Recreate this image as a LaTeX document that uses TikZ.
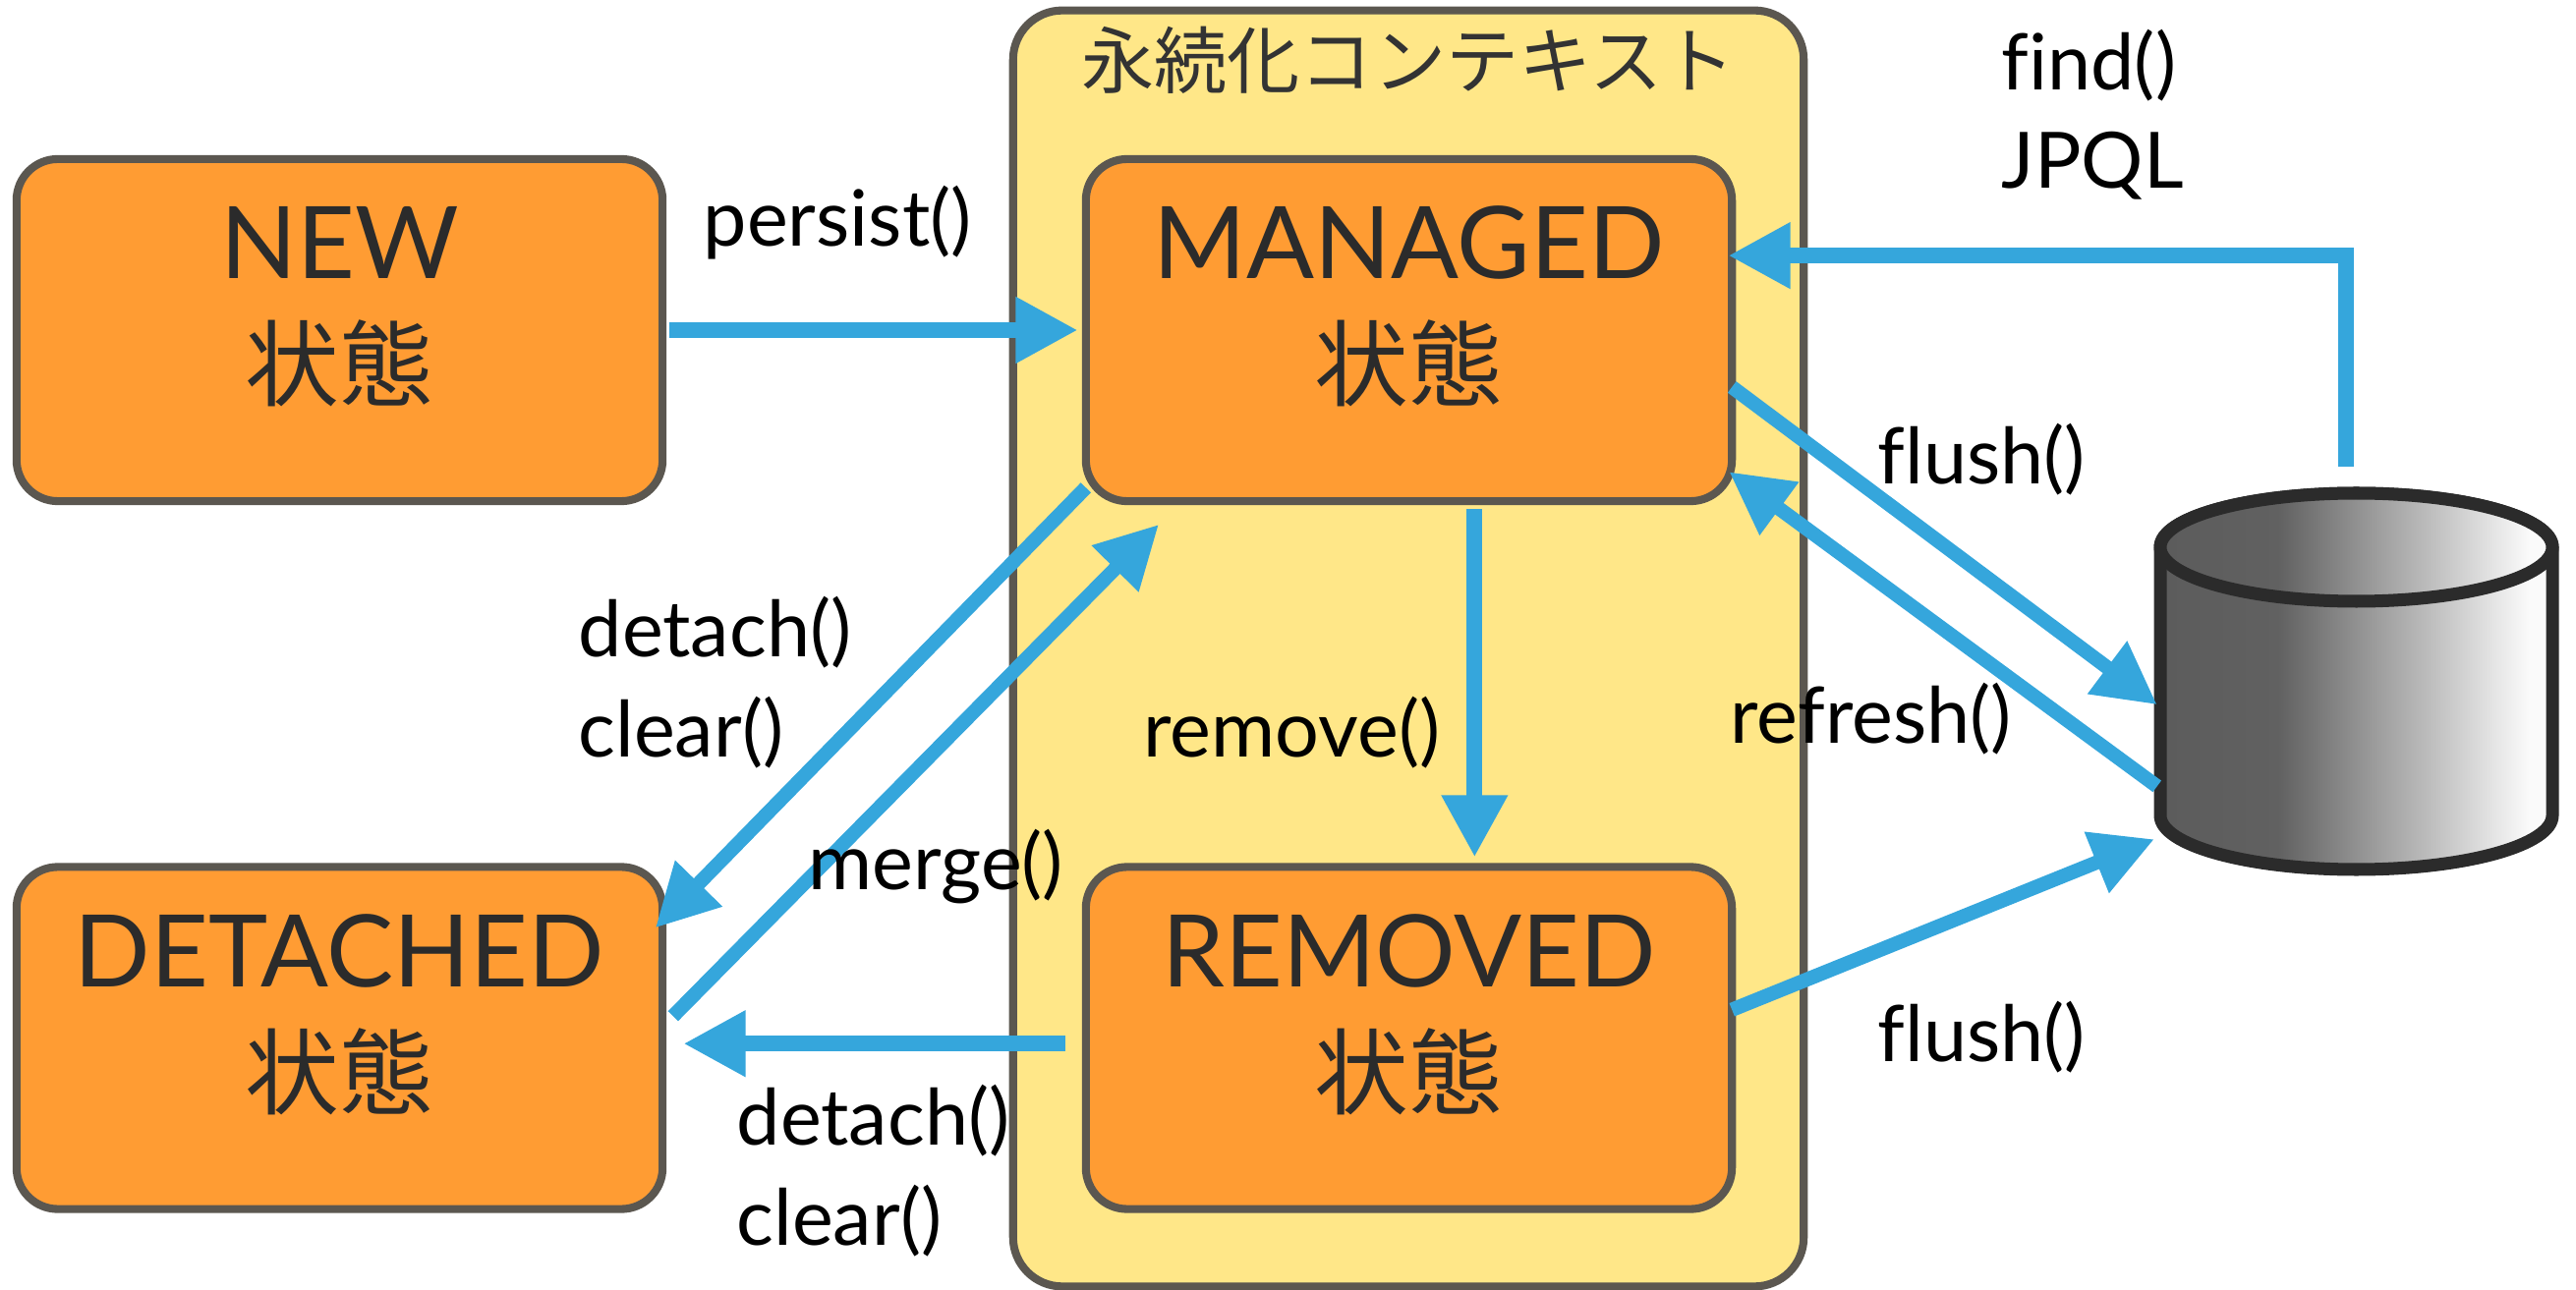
\documentclass[tikz,border=0pt]{standalone}
\usepackage{fontspec}
\setmainfont{Lato}[Ligatures=NoCommon]
\newfontfamily\jpfont{Noto Sans CJK JP}
\usetikzlibrary{positioning}
\usetikzlibrary{arrows.meta}
\definecolor{boxorange}{HTML}{FF9C33}
\definecolor{boxyellow}{HTML}{FFE788}
\definecolor{boxedge}{HTML}{5B5750}
\definecolor{flowblue}{HTML}{35A6DC}
\definecolor{dbedge}{HTML}{2B2B2B}
\pgfdeclarehorizontalshading{dbshade}{100bp}{color(0bp)=(black!64);color(25bp)=(black!64);color(40bp)=(black!62);color(72bp)=(black!2);color(100bp)=(black!2)}
\tikzset{
    statebox/.style={rectangle, rounded corners=0.42cm, fill=boxorange, draw=boxedge,
        line width=2.3pt, outer sep=0pt, minimum width=6.57cm, minimum height=3.48cm, inner sep=0pt},
    statename/.style={anchor=base, text=black!83, font=\fontsize{29}{29}\selectfont},
    statejp/.style={anchor=base, text=black!83, font=\jpfont\fontsize{27.2}{27.2}\selectfont},
    method/.style={anchor=base west, inner sep=0pt, font=\fontsize{22.5}{22.5}\selectfont},
    flow/.style={draw=flowblue, line width=4.5pt, -{Triangle[length=18pt,width=18pt]}},
    thinflow/.style={draw=flowblue, line width=4.1pt, -{Triangle[length=18pt,width=18pt]}}
}
\begin{document}
\begin{tikzpicture}[x=0.01cm, y=-0.01cm]
        \useasboundingbox (0,0) rectangle (2621,1313);

        \node[rectangle, rounded corners=0.5cm, fill=boxyellow, draw=boxedge, line width=2.3pt,
            outer sep=0pt, minimum width=8.04cm, minimum height=12.98cm] (context) at (1433,660) {};
        \node[anchor=base, text=black!80, font=\jpfont\fontsize{21.1}{21.1}\selectfont] (contextname)
            at (1433,90) {永続化コンテキスト};

        \foreach \n/\t/\x/\y in {newbox/NEW/345.5/336, managed/MANAGED/1433.5/336,
            detached/DETACHED/345.5/1056.5, removed/REMOVED/1433.5/1056.5}
        {
            \node[statebox] (\n) at (\x,\y) {};
            \node[statename] (\n name) at (\x,\y-52) {\t};
            \node[statejp] (\n jp) at (\x,\y+71) {状態};
        }

        % database
        \node[minimum width=4.11cm, minimum height=3.97cm, inner sep=0pt, outer sep=0pt] (db) at (2397.5,693.5) {};
        \draw[draw=dbedge, line width=3.7pt, shading=dbshade] (2198,557) -- (2198,830)
            arc[start angle=180, end angle=0, x radius=199.5, y radius=55]
            -- (2597,557) arc[start angle=0, end angle=-180, x radius=199.5, y radius=55];
        \draw[draw=dbedge, line width=3.7pt, shading=dbshade] (2397.5,557) ellipse[x radius=199.5, y radius=55];

        \draw[flow, shorten <=2pt, shorten >=2.3pt] (newbox.east) -- (managed.west);
        \draw[flow, shorten <=2.3pt, shorten >=2.8pt] (managed.-69.5) -- (removed.69.5);
        \draw[flow, shorten <=6pt, shorten >=6pt] (removed.181.8) -- (detached.-1.8);
        \draw[flow, shorten <=5.7pt, shorten >=-1.1pt] (db.93.6) |- (managed.13.2);

        \draw[thinflow, shorten >=-3pt] (managed.206.8) -- (detached.20.8);
        \draw[thinflow, shorten <=4.3pt, shorten >=9.5pt] (detached.2) -- (managed.217.9);
        \draw[thinflow, shorten >=-1pt] (managed.-10.7) -- (db.186);
        \draw[thinflow, shorten <=-1pt, shorten >=-1pt] (db.207.8) -- (managed.-24.4);
        \draw[thinflow] (removed.5.5) -- (db.218.5);

        \node[method] (persistlabel) at (715,251) {persist()};
        \node[method] (detachlabel) at (588,669) {detach()};
        \node[method] (clearlabel) at (588,771) {clear()};
        \node[method] (mergelabel) at (822,906) {merge()};
        \node[method] (removelabel) at (1163,771) {remove()};
        \node[method] (flushlabel) at (1910,493) {flush()};
        \node[method] (refreshlabel) at (1760,757) {refresh()};
        \node[method] (flushlabelb) at (1910,1080) {flush()};
        \node[method] (detachlabelb) at (749,1165) {detach()};
        \node[method] (clearlabelb) at (749,1267) {clear()};
        \node[method] (findlabel) at (2036,92) {find()};
        \node[method] (jpqllabel) at (2036,192) {JPQL};
\end{tikzpicture}
\end{document}
